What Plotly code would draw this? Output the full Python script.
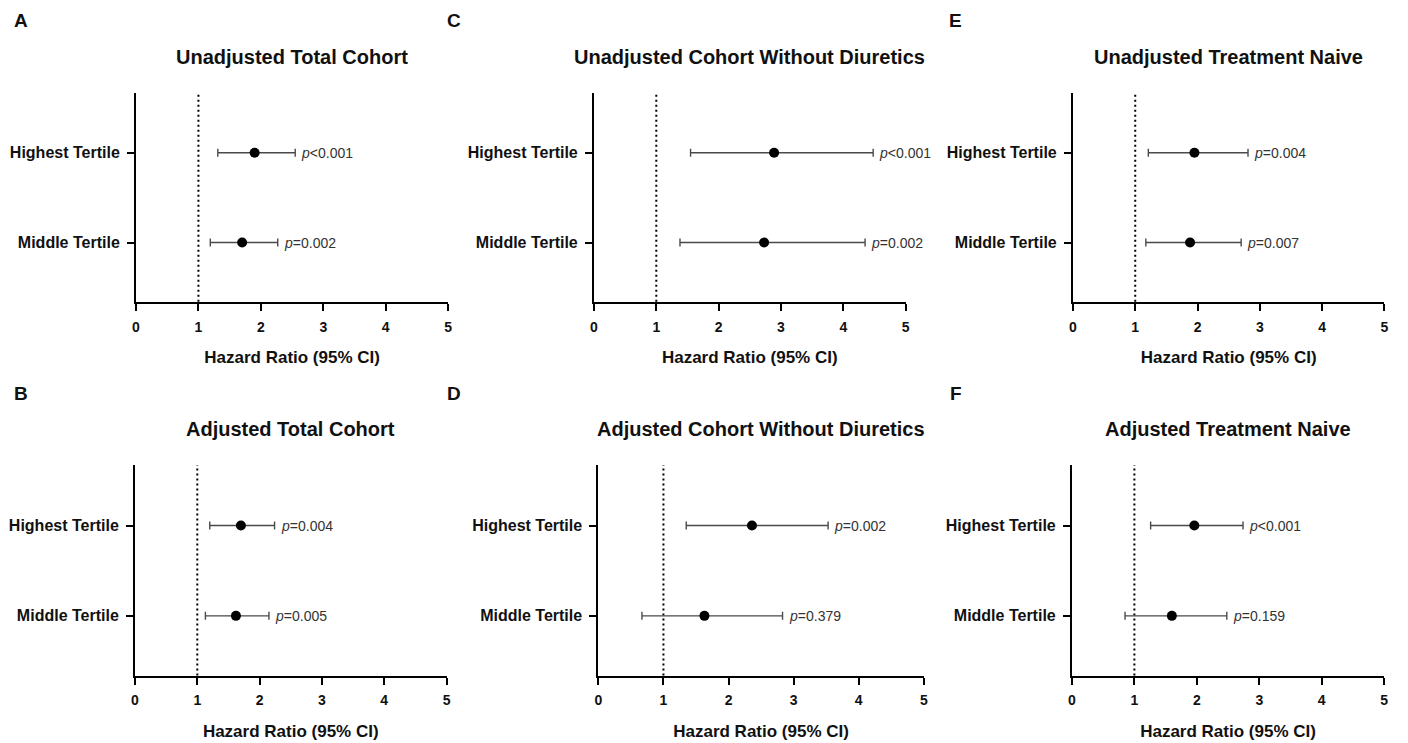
import plotly.graph_objects as go

# ---------------- data ----------------
panel_letters = ["A", "B", "C", "D", "E", "F"]
panel_titles = [
    "Unadjusted Total Cohort",
    "Adjusted Total Cohort",
    "Unadjusted Cohort Without Diuretics",
    "Adjusted Cohort Without Diuretics",
    "Unadjusted Treatment Naive",
    "Adjusted Treatment Naive",
]
categories = ["Middle Tertile", "Highest Tertile"]

hr_high = [1.90, 1.70, 2.89, 2.36, 1.95, 1.96]
lo_high = [1.31, 1.20, 1.55, 1.35, 1.21, 1.26]
up_high = [2.55, 2.24, 4.48, 3.53, 2.81, 2.74]
p_high = ["<0.001", "=0.004", "<0.001", "=0.002", "=0.004", "<0.001"]

hr_mid = [1.70, 1.62, 2.73, 1.63, 1.88, 1.60]
lo_mid = [1.19, 1.13, 1.38, 0.67, 1.17, 0.85]
up_mid = [2.27, 2.15, 4.35, 2.83, 2.70, 2.48]
p_mid = ["=0.002", "=0.005", "=0.002", "=0.379", "=0.007", "=0.159"]

x_ticks = [0, 1, 2, 3, 4, 5]
x_title = "Hazard Ratio (95% CI)"
ref_line = 1

# ---------------- layout geometry (pixels) ----------------
W, H = 1408, 743
OFF = 8  # default page body margin, compensated so the figure lands where the reference is
FONT = "Liberation Sans, Arial, sans-serif"
# (x0, x1, ytop, ybottom) of each plot area, in page pixels
boxes = [
    (132.7, 446.7, 92.7, 301.7),
    (131.7, 445.0, 465.0, 675.5),
    (593.3, 906.7, 92.7, 301.7),
    (597.7, 925.0, 465.0, 675.5),
    (1075.0, 1388.3, 92.7, 301.7),
    (1074.0, 1388.0, 465.0, 675.5),
]
letter_pos = [(17, 20), (17, 393), (453, 20), (453, 393), (957, 20), (957, 393)]

def px(x):
    return (x - OFF) / W

def py(y):
    return 1 - (y - OFF) / H

fig = go.Figure()
annotations = []
shapes = []
layout_axes = {}

def fmt_p(s):
    return "<i>p</i>" + s.replace("<", "&lt;")

for i in range(6):
    n = "" if i == 0 else str(i + 1)
    xa, ya = "x" + n, "y" + n
    x0, x1, yt, yb = boxes[i]
    ypos = [1, 2]
    hr = [hr_mid[i], hr_high[i]]
    lo = [lo_mid[i], lo_high[i]]
    up = [up_mid[i], up_high[i]]
    ps = [p_mid[i], p_high[i]]
    fig.add_trace(go.Scatter(
        x=hr, y=ypos, mode="markers", xaxis=xa, yaxis=ya,
        marker=dict(color="black", size=10, symbol="circle"),
        error_x=dict(type="data", symmetric=False,
                     array=[u - h for u, h in zip(up, hr)],
                     arrayminus=[h - l for h, l in zip(hr, lo)],
                     color="#4a4a4a", thickness=1.4, width=4),
        showlegend=False, hoverinfo="x+y",
    ))
    for yy, uu, pp in zip(ypos, up, ps):
        annotations.append(dict(
            x=uu, y=yy, xref=xa, yref=ya, text=fmt_p(pp), showarrow=False,
            xanchor="left", yanchor="middle", xshift=4,
            font=dict(family=FONT, size=14, color="#333333"),
        ))
    shapes.append(dict(
        type="line", xref=xa, yref=ya + " domain", x0=ref_line, x1=ref_line, y0=0, y1=1,
        line=dict(color="black", width=2, dash="2px,3px"), layer="below",
    ))
    # panel title
    annotations.append(dict(
        x=px((x0 + x1) / 2), y=py(yt - 35.7), xref="paper", yref="paper",
        text="<b>" + panel_titles[i] + "</b>", showarrow=False,
        xanchor="center", yanchor="middle",
        font=dict(family=FONT, size=20, color="#111111"),
    ))
    # panel letter
    lx, ly = letter_pos[i]
    annotations.append(dict(
        x=px(lx), y=py(ly), xref="paper", yref="paper",
        text="<b>" + panel_letters[i] + "</b>", showarrow=False,
        xanchor="center", yanchor="middle",
        font=dict(family=FONT, size=19, color="#111111"),
    ))
    layout_axes["xaxis" + n] = dict(
        domain=[px(x0), px(x1)], anchor=ya, range=[0, 5],
        tickvals=x_ticks, ticks="outside", ticklen=7, tickwidth=2,
        tickcolor="black", showline=True, linecolor="black", linewidth=2,
        showgrid=False, zeroline=False, ticklabelstandoff=4,
        tickfont=dict(family=FONT, size=14, color="#111111", weight="bold"),
        title=dict(text=x_title, standoff=18,
                   font=dict(family=FONT, size=17, color="#111111", weight="bold")),
        fixedrange=True,
    )
    layout_axes["yaxis" + n] = dict(
        domain=[py(yb), py(yt)], anchor=xa, range=[0.34, 2.67],
        tickvals=ypos, ticktext=categories, ticks="outside", ticklen=7, tickwidth=2,
        tickcolor="black", showline=True, linecolor="black", linewidth=2,
        showgrid=False, zeroline=False, ticklabelstandoff=4,
        tickfont=dict(family=FONT, size=16, color="#111111", weight="bold"),
        fixedrange=True,
    )

fig.update_layout(
    width=W, height=H, margin=dict(l=0, r=0, t=0, b=0),
    paper_bgcolor="white", plot_bgcolor="white",
    annotations=annotations, shapes=shapes, showlegend=False,
    font=dict(family=FONT),
    **layout_axes,
)

fig.write_html("out.html")
